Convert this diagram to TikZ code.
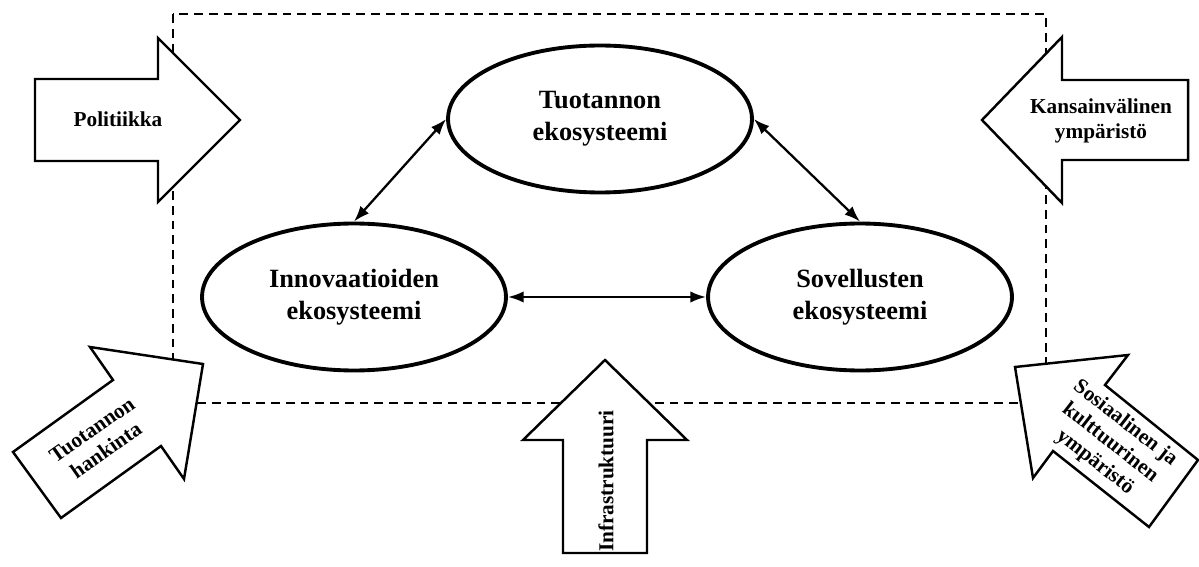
\documentclass[tikz,border=0pt]{standalone}
\usepackage{fontspec}
\setmainfont{Liberation Serif}
\usetikzlibrary{arrows.meta,shapes.geometric}

\begin{document}
\begin{tikzpicture}[x=0.02cm,y=-0.02cm,
  eco/.style={ellipse,draw,line width=2.2pt,minimum width=6.08cm,
    minimum height=2.94cm,inner sep=0pt,align=center,
    font=\fontsize{15}{18.1}\selectfont\bfseries},
  link/.style={{Latex[length=9pt,width=6.5pt]}-{Latex[length=9pt,width=6.5pt]},
    line width=1.3pt},
  barrow/.style={draw,fill=white,line width=1.4pt,line join=miter},
  blbl/.style={align=center,font=\fontsize{12.1}{14}\selectfont\bfseries}]
  \useasboundingbox (0,0) rectangle (1199,567);
  % system boundary
  \draw[line width=1.5pt,dash pattern=on 5pt off 3.4pt] (173,14) rectangle (1046,403);

  % outside influences
  \draw[barrow] (35,79) -- (158,79) -- (158,38) -- (240,120) -- (158,202)
    -- (158,161) -- (35,161) -- cycle;
  \node[blbl] (pol) at (118,119) {Politiikka};

  \draw[barrow] (1188,80) -- (1062,80) -- (1062,37) -- (982,120) -- (1062,203)
    -- (1062,160) -- (1188,160) -- cycle;
  \node[blbl] (kans) at (1101,121) {Kansainvälinen\\ympäristö};

  \draw[barrow] (13,452) -- (113,380) -- (90,347) -- (203,364) -- (184,479)
    -- (161,446) -- (61,518) -- cycle;
  \node[blbl,rotate=35] (hank) at (99,440) {Tuotannon\\hankinta};

  \draw[barrow] (563,553) -- (563,440) -- (523,440) -- (605,360) -- (687,440)
    -- (647,440) -- (647,553) -- cycle;
  \node[blbl,rotate=90] (infra) at (606,481) {Infrastruktuuri};

  \draw[barrow] (1015,367) -- (1128,355) -- (1105,385) -- (1198,460) -- (1149,527)
    -- (1053,451) -- (1033,478) -- cycle;
  \node[blbl,rotate=-38] (sos) at (1110,443) {Sosiaalinen ja\\kulttuurinen\\ympäristö};

  % ecosystems
  \node[eco] (tuot) at (600,119) {Tuotannon\\ekosysteemi};
  \node[eco] (innov) at (354,297) {Innovaatioiden\\ekosysteemi};
  \node[eco] (sovel) at (860,297) {Sovellusten\\ekosysteemi};

  \draw[link] (tuot.west) -- (innov.north);
  \draw[link] (tuot.east) -- (sovel.north);
  \draw[link] (innov.east) -- (sovel.west);
\end{tikzpicture}
\end{document}
